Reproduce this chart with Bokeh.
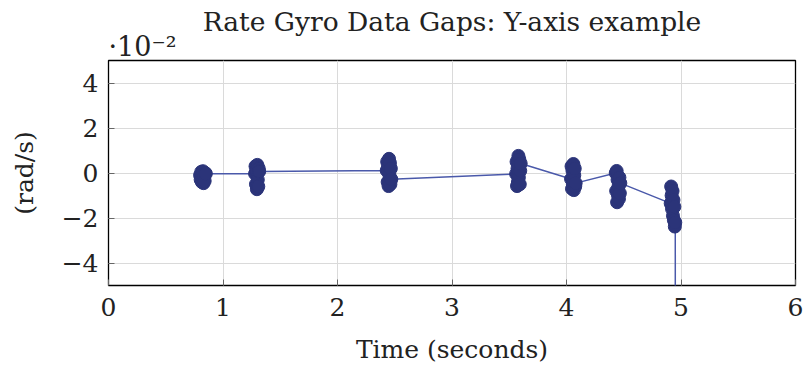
from bokeh.plotting import figure
from bokeh.models import Range1d, FixedTicker, ColumnDataSource, Title
from bokeh.embed import file_html
from bokeh.resources import INLINE

# Rate gyro samples: time (s) and Y-axis rate (in units of 1e-2 rad/s)
t_burst1 = [0.800, 0.805, 0.810, 0.815, 0.820, 0.825, 0.830, 0.835, 0.840, 0.845, 0.850]
r_burst1 = [-0.10, -0.30, 0.05, -0.40, -0.20, 0.08, -0.45, -0.15, -0.35, 0.00, -0.03]

t_burst2 = [1.280, 1.284, 1.288, 1.292, 1.296, 1.300, 1.304, 1.308, 1.312, 1.316]
r_burst2 = [-0.03, 0.30, -0.50, 0.10, -0.72, 0.36, -0.30, -0.60, 0.20, 0.07]

t_burst3 = [2.430, 2.434, 2.438, 2.442, 2.446, 2.450, 2.454, 2.458, 2.462, 2.466, 2.470]
r_burst3 = [0.11, 0.50, -0.40, 0.30, -0.58, 0.63, -0.10, 0.45, -0.50, 0.20, -0.28]

t_burst4 = [3.560, 3.564, 3.568, 3.572, 3.576, 3.580, 3.584, 3.588, 3.592, 3.596, 3.600]
r_burst4 = [-0.04, 0.50, -0.58, 0.20, -0.40, 0.76, -0.20, 0.60, -0.50, 0.10, 0.42]

t_burst5 = [4.040, 4.044, 4.048, 4.052, 4.056, 4.060, 4.064, 4.068, 4.072, 4.076, 4.080]
r_burst5 = [-0.27, 0.30, -0.70, 0.10, -0.50, 0.40, -0.76, -0.10, 0.20, -0.60, -0.45]

t_burst6 = [4.430, 4.434, 4.438, 4.442, 4.446, 4.450, 4.454, 4.458, 4.462, 4.466, 4.470]
r_burst6 = [0.00, -0.80, 0.09, -1.30, -0.30, -1.00, -0.60, -1.15, -0.20, -0.90, -0.45]

t_burst7 = [4.910, 4.914, 4.918, 4.922, 4.926, 4.930, 4.934, 4.938, 4.942, 4.946, 4.950, 4.952]
r_burst7 = [-1.35, -0.60, -1.00, -1.60, -0.80, -1.90, -1.20, -2.10, -1.50, -2.38, -2.20, -30.0]

x_ticks = [0, 1, 2, 3, 4, 5, 6]
y_ticks = [-4, -2, 0, 2, 4]
y_tick_labels = {-4: "\u22124", -2: "\u22122", 0: "0", 2: "2", 4: "4"}
multiplier_text = "\u00b710\u207b\u00b2"

t_all = t_burst1 + t_burst2 + t_burst3 + t_burst4 + t_burst5 + t_burst6 + t_burst7
r_all = r_burst1 + r_burst2 + r_burst3 + r_burst4 + r_burst5 + r_burst6 + r_burst7
src = ColumnDataSource(dict(t=t_all, r=r_all))

FONT = "DejaVu Serif"
FS = "25px"
TXT = "#222222"

p = figure(width=807, height=369, output_backend="svg", toolbar_location=None,
           x_range=Range1d(0, 6), y_range=Range1d(-5, 5),
           min_border_left=108, min_border_right=12, min_border_top=60, min_border_bottom=84,
           title=None)
p.background_fill_color = "white"
p.border_fill_color = "white"
p.outline_line_color = "black"
p.outline_line_width = 1.3

# axis multiplier (closest to frame), then the main title above it
p.add_layout(Title(text=multiplier_text, align="left", text_font=FONT, text_font_size="27px",
                   text_font_style="normal", text_color=TXT, standoff=-3), "above")
p.add_layout(Title(text="Rate Gyro Data Gaps: Y-axis example", align="center", text_font=FONT,
                   text_font_size="26.5px", text_font_style="normal", text_color=TXT,
                   standoff=-12), "above")

p.line("t", "r", source=src, line_color="#4a59aa", line_width=1.5)
p.scatter("t", "r", source=src, size=13, fill_color="#2b3479", line_color="#2b3479")

for ax in (p.xaxis[0], p.yaxis[0]):
    ax.axis_line_color = None
    ax.major_tick_in = 6
    ax.major_tick_out = 0
    ax.minor_tick_line_color = None
    ax.major_tick_line_color = "#666666"
    ax.major_label_text_font = FONT
    ax.major_label_text_font_size = FS
    ax.major_label_text_color = TXT
    ax.axis_label_text_font = FONT
    ax.axis_label_text_font_size = FS
    ax.axis_label_text_font_style = "normal"
    ax.axis_label_text_color = TXT

p.xaxis.ticker = FixedTicker(ticks=x_ticks)
p.yaxis.ticker = FixedTicker(ticks=y_ticks)
p.yaxis.major_label_overrides = y_tick_labels
p.xaxis.axis_label = "Time (seconds)"
p.yaxis.axis_label = "(rad/s)"
p.xaxis.major_label_standoff = 12
p.xaxis.axis_label_standoff = 16
p.yaxis.major_label_standoff = 10
p.yaxis.axis_label_standoff = 20

p.xgrid.ticker = FixedTicker(ticks=x_ticks)
p.ygrid.ticker = FixedTicker(ticks=y_ticks)
p.grid.grid_line_color = "#dadada"
p.grid.grid_line_width = 1

open("out.html", "w").write(file_html(p, INLINE))
